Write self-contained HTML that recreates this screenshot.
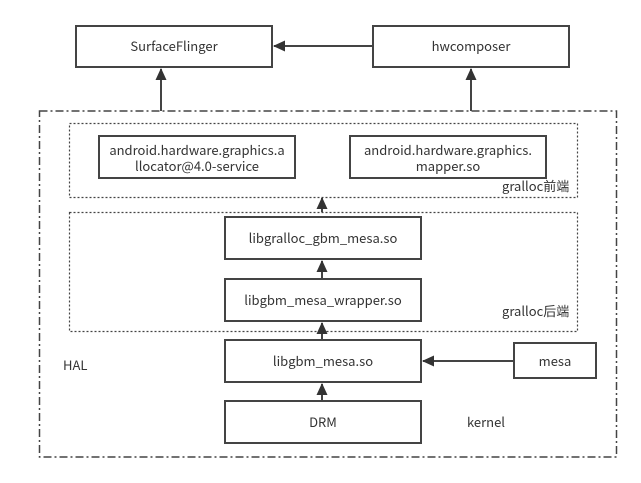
<!DOCTYPE html>
<html><head><style>body{margin:0;background:#fff}svg{display:block}text{font-family:"Noto Sans CJK SC","Liberation Sans",sans-serif;font-size:13px;fill:#333}</style></head>
<body>
<svg width="641" height="483" viewBox="0 0 641 483">
<defs><marker id="a" markerWidth="12" markerHeight="12" refX="11" refY="5.5" orient="auto" markerUnits="userSpaceOnUse"><path d="M0,0 L12,5.5 L0,11 Z" fill="#333"/></marker></defs>
<g fill="none" stroke="#444" stroke-width="2">
<rect x="76" y="26" width="196" height="41" fill="#fff"/>
<rect x="373" y="26" width="196" height="41" fill="#fff"/>
<rect x="39.5" y="111" width="577" height="346" stroke-width="1.5" stroke-dasharray="8,3,2,3"/>
<rect x="69.5" y="123.5" width="508" height="74" stroke-width="1.2" stroke-dasharray="2,2"/>
<rect x="69.5" y="212.5" width="508" height="119" stroke-width="1.2" stroke-dasharray="2,2"/>
<rect x="99" y="136" width="196" height="42"/>
<rect x="350" y="136" width="196" height="42"/>
<rect x="225" y="217" width="196" height="42"/>
<rect x="225" y="279" width="196" height="42"/>
<rect x="225" y="340" width="196" height="42"/>
<rect x="225" y="401" width="196" height="42"/>
<rect x="514" y="343" width="82" height="35"/>
<g stroke="#444" stroke-width="2" marker-end="url(#a)">
<line x1="372" y1="46" x2="274" y2="46"/>
<line x1="161" y1="111" x2="161" y2="69"/>
<line x1="471" y1="111" x2="471" y2="69"/>
<line x1="322" y1="212" x2="322" y2="198"/>
<line x1="322" y1="279" x2="322" y2="261"/>
<line x1="322" y1="340" x2="322" y2="323"/>
<line x1="322" y1="401" x2="322" y2="384"/>
<line x1="514" y1="361" x2="423" y2="361"/>
</g>
</g>
<g text-anchor="middle">
<text x="174" y="51">SurfaceFlinger</text>
<text x="471" y="51">hwcomposer</text>
<text x="197" y="155">android.hardware.graphics.a</text>
<text x="197" y="171">llocator@4.0-service</text>
<text x="448" y="155">android.hardware.graphics.</text>
<text x="448" y="171">mapper.so</text>
<text x="323" y="243">libgralloc_gbm_mesa.so</text>
<text x="323" y="305">libgbm_mesa_wrapper.so</text>
<text x="323" y="366">libgbm_mesa.so</text>
<text x="323" y="427">DRM</text>
<text x="555" y="366">mesa</text>
</g>
<text x="502" y="191">gralloc前端</text>
<text x="502" y="316">gralloc后端</text>
<text x="63" y="370">HAL</text>
<text x="467" y="427">kernel</text>
</svg>
</body></html>
